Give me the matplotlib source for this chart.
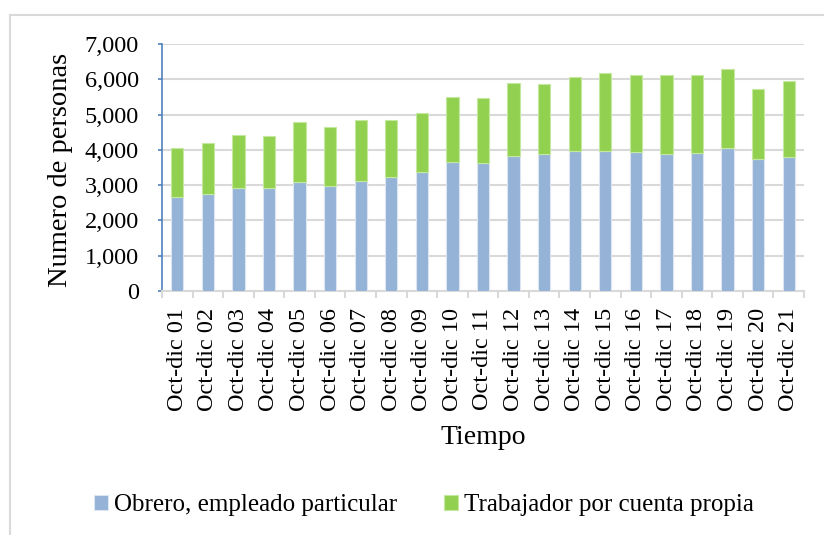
import matplotlib
matplotlib.use("Agg")
import matplotlib.pyplot as plt
from matplotlib.ticker import FuncFormatter, FixedLocator
from matplotlib.lines import Line2D
import numpy as np

categories = ["Oct-dic 01", "Oct-dic 02", "Oct-dic 03", "Oct-dic 04", "Oct-dic 05",
              "Oct-dic 06", "Oct-dic 07", "Oct-dic 08", "Oct-dic 09", "Oct-dic 10",
              "Oct-dic 11", "Oct-dic 12", "Oct-dic 13", "Oct-dic 14", "Oct-dic 15",
              "Oct-dic 16", "Oct-dic 17", "Oct-dic 18", "Oct-dic 19", "Oct-dic 20",
              "Oct-dic 21"]
obrero = [2650, 2750, 2910, 2910, 3090, 2980, 3110, 3230, 3375, 3655,
          3640, 3835, 3885, 3960, 3960, 3940, 3885, 3910, 4045, 3730, 3800]
total = [4040, 4200, 4420, 4400, 4800, 4635, 4845, 4845, 5055, 5495,
         5475, 5890, 5875, 6055, 6190, 6130, 6130, 6110, 6300, 5730, 5950]
cuenta_propia = [t - o for t, o in zip(total, obrero)]

series_names = ["Obrero, empleado particular", "Trabajador por cuenta propia"]
colors = ["#95B3D7", "#92D050"]

plt.rcParams['font.family'] = ['Liberation Serif', 'DejaVu Serif']

fig = plt.figure(figsize=(8.24, 5.35), dpi=100)
ax = fig.add_axes([162/824, 1-291/535, (804-162)/824, (291-44)/535])

x = np.arange(len(categories))
w = 0.4
ax.bar(x, obrero, w, color=colors[0], edgecolor="#DCE6F2", linewidth=0.8,
       label=series_names[0], zorder=3)
ax.bar(x, cuenta_propia, w, bottom=obrero, color=colors[1], edgecolor="#C4E8A0",
       linewidth=0.8, label=series_names[1], zorder=3)

ax.set_ylim(0, 7000)
ax.set_xlim(-0.5, len(categories) - 0.5)
ax.set_yticks(np.arange(0, 7001, 1000))
ax.yaxis.set_major_formatter(FuncFormatter(lambda v, p: f"{int(v):,}"))
ax.grid(axis='y', color="#D9D9D9", linewidth=1.5, zorder=0)
ax.set_axisbelow(True)

ax.set_xticks(x)
ax.set_xticklabels(categories, rotation=90, fontsize=17.5)
ax.tick_params(axis='x', which='major', length=0, pad=12)
ax.xaxis.set_minor_locator(FixedLocator(np.arange(-0.5, len(categories), 1.0)))
ax.tick_params(axis='x', which='minor', length=5, color="#D9D9D9", width=1.5)
ax.tick_params(axis='y', labelsize=17.5, length=3, color="#4F81BD", width=1.2, pad=13.5)

for s in ['top', 'right']:
    ax.spines[s].set_visible(False)
ax.spines['left'].set_color("#4F81BD")
ax.spines['left'].set_linewidth(1.2)
ax.spines['bottom'].set_color("#D9D9D9")
ax.spines['bottom'].set_linewidth(1.5)

fig.text(61/824, 1-170/535, "Numero de personas", rotation=90, ha='center', va='center',
         fontsize=20.5)
fig.text(483/824, 1-437/535, "Tiempo", ha='center', va='center', fontsize=20)

leg = fig.legend(loc='center', bbox_to_anchor=(424/824, 1-505/535), ncol=2,
                 frameon=False, fontsize=18, handlelength=0.55, handleheight=0.55,
                 handletextpad=0.25, columnspacing=1.9, borderaxespad=0)

# outer chart frame
fig.add_artist(Line2D([10/824, 1], [1-15/535, 1-15/535], color="#D9D9D9", linewidth=1.5,
                      transform=fig.transFigure))
fig.add_artist(Line2D([10/824, 10/824], [0, 1-15/535], color="#D9D9D9", linewidth=1.5,
                      transform=fig.transFigure))

fig.savefig("out.png", dpi=100)
